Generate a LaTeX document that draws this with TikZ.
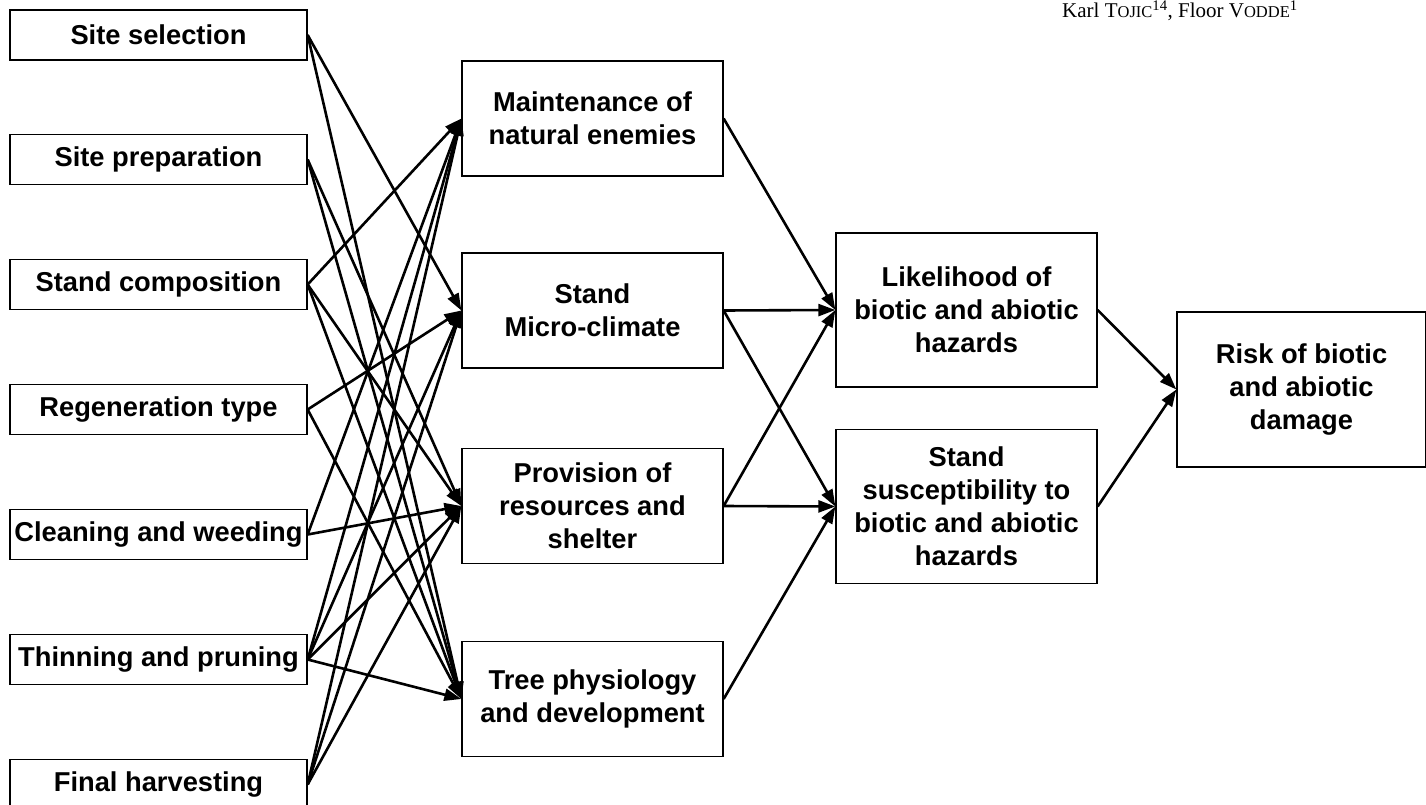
\documentclass[tikz,border=0pt]{standalone}
\usepackage{fontspec}
\setmainfont{Liberation Serif}
\newfontfamily\boxfont{Liberation Sans}
\usetikzlibrary{arrows.meta}
\tikzset{
  box/.style={draw, line width=1.3pt, align=center, inner sep=0pt,
    font=\boxfont\bfseries\fontsize{27.3}{33}\selectfont},
  lbox/.style={box, minimum width=297pt, minimum height=50pt},
  mbox/.style={box, minimum width=261pt, minimum height=115pt},
  rbox/.style={box, minimum width=261pt, minimum height=154pt},
  kbox/.style={box, minimum width=249pt, minimum height=155pt},
  arr/.style={line width=2.6pt, -{Triangle[length=17pt,width=12pt]}},
}
\begin{document}
\begin{tikzpicture}[x=1pt,y=-1pt]
\path[use as bounding box, fill=white] (0,0) rectangle (1426,805);
\clip (0,0) rectangle (1426,805);
% left column
\node[lbox] (ss) at (158.5,35) {Site selection};
\node[lbox] (sp) at (158.5,159.5) {Site preparation};
\node[lbox] (sc) at (158.5,284.5) {Stand composition};
\node[lbox] (rt) at (158.5,409.5) {Regeneration type};
\node[lbox] (cw) at (158.5,534.5) {Cleaning and weeding};
\node[lbox] (tn) at (158.5,659.5) {Thinning and pruning};
\node[lbox] (fh) at (158.5,784.5) {Final harvesting};
% middle column
\node[mbox] (me) at (592.5,118.5) {Maintenance of\\natural enemies};
\node[mbox] (mc) at (592.5,310.5) {Stand\\Micro-climate};
\node[mbox] (pr) at (592.5,506) {Provision of\\resources and\\shelter};
\node[mbox] (tp) at (592.5,699) {Tree physiology\\and development};
% right columns
\node[rbox] (lh) at (966.5,310) {Likelihood of\\biotic and abiotic\\hazards};
\node[rbox] (su) at (966.5,506.5) {Stand\\susceptibility to\\biotic and abiotic\\hazards};
\node[kbox] (ri) at (1301.5,389.5) {Risk of biotic\\and abiotic\\damage};
% header
\node[anchor=base west, inner sep=0pt, font=\fontsize{21}{25}\selectfont] (hd) at (1062,18)
  {Karl T{\fontsize{16.5}{20}\selectfont OJIC}\textsuperscript{14}, Floor V{\fontsize{16.5}{20}\selectfont ODDE}\textsuperscript{1}};
% connectors
\foreach \a/\b in {ss/mc, ss/tp, sp/pr, sp/tp, sc/me, sc/pr, sc/tp, rt/mc, rt/tp,
  cw/me, cw/pr, tn/me, tn/mc, tn/pr, tn/tp, fh/me, fh/mc, fh/pr,
  me/lh, mc/lh, mc/su, pr/lh, pr/su, tp/su, lh/ri, su/ri}
  \draw[arr] (\a.east) -- (\b.west);
\end{tikzpicture}
\end{document}
